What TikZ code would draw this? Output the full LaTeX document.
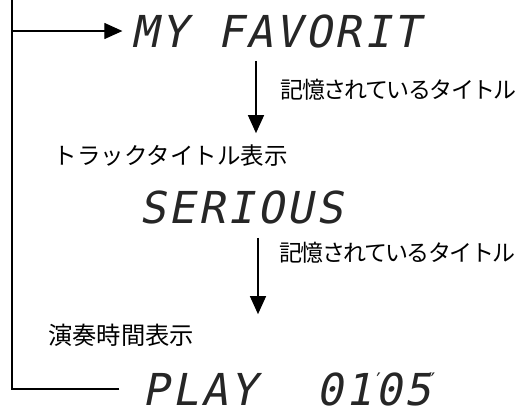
\documentclass[tikz,border=0pt]{standalone}
\usepackage{fontspec}
\usetikzlibrary{arrows.meta}
\newfontfamily\jpfont{Noto Sans CJK JP}
\newfontfamily\jptight[LetterSpace=-7]{Noto Sans CJK JP}
\newfontfamily\lcdfont[FakeSlant=0.2,LetterSpace=6.8]{DejaVu Sans Mono}
\newfontfamily\markfont{DejaVu Sans}
\begin{document}
\begin{tikzpicture}[x=1pt,y=-1pt,>={Triangle[length=18pt,width=16pt]},
	lcd/.style={inner sep=0pt,text=black!85,font=\lcdfont\fontsize{44}{44}\selectfont},
	tick/.style={inner sep=0pt,anchor=north,text=black!85,font=\markfont\fontsize{20}{20}\selectfont},
	note/.style={inner sep=0pt,anchor=west,font=\jpfont\fontsize{23.5}{23.5}\selectfont},
	memo/.style={inner sep=0pt,anchor=west,font=\jptight\fontsize{23}{23}\selectfont},
	flow/.style={->,line width=1.2pt}]
	\useasboundingbox (0,0) rectangle (522,410);
	% displays
	\node[lcd] (fav) at (276,31) {MY FAVORIT};
	\node[lcd] (ser) at (241,207) {SERIOUS};
	\node[lcd] (play) at (287,389) {PLAY\ \ 0105};
	\node[tick] (min) at ([xshift=-53pt,yshift=-1pt]play.north east) {′};
	\node[tick] (sec) at ([xshift=0pt,yshift=-1pt]play.north east) {″};
	% labels
	\node[memo] (memo1) at (280.5,90) {記憶されているタイトル};
	\node[memo] (memo2) at (279,253) {記憶されているタイトル};
	\node[note] (track) at (53.5,156) {トラックタイトル表示};
	\node[note,font=\jpfont\fontsize{24.3}{24.3}\selectfont] (time) at (48,335) {演奏時間表示};
	% arrows
	\coordinate (a1) at (256,0);
	\coordinate (a2) at (258,0);
	\coordinate (loop) at (12,0);
	\draw[flow,shorten <=13pt,shorten >=57pt] (fav.south -| a1) -- (ser.north -| a1);
	\draw[flow,shorten <=14pt,shorten >=58pt] (ser.south -| a2) -- (play.north -| a2);
	\draw[flow] ([xshift=-23pt]play.west) -| (loop) |- ([xshift=-9pt]fav.west);
\end{tikzpicture}
\end{document}
